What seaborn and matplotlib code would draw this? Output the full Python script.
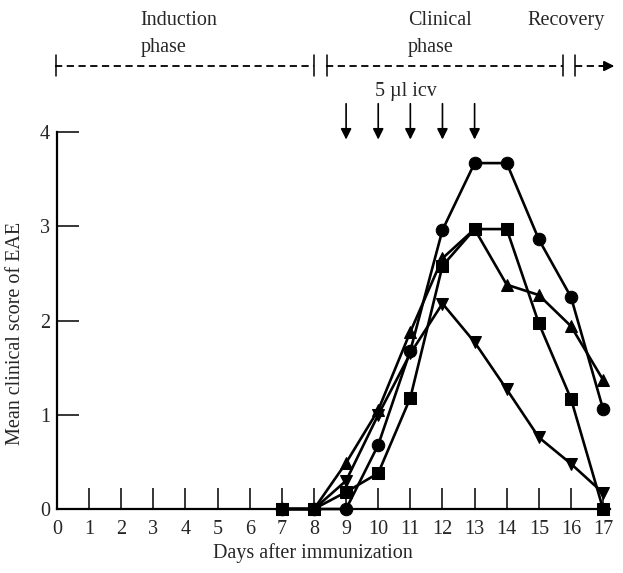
import matplotlib
matplotlib.use("Agg")
import matplotlib.pyplot as plt
import seaborn as sns
import pandas as pd
import numpy as np

days = [7, 8, 9, 10, 11, 12, 13, 14, 15, 16, 17]
circle = [0, 0, 0, 0.68, 1.68, 2.96, 3.67, 3.67, 2.86, 2.25, 1.06]
square = [0, 0, 0.18, 0.38, 1.18, 2.58, 2.97, 2.97, 1.97, 1.17, 0]
tri_up = [0, 0, 0.49, 1.05, 1.88, 2.66, 2.97, 2.38, 2.27, 1.94, 1.37]
tri_down = [0, 0, 0.30, 1.00, 1.65, 2.18, 1.77, 1.27, 0.76, 0.48, 0.17]
series_names = ["circle", "square", "tri_up", "tri_down"]
series_vals = [circle, square, tri_up, tri_down]
marker_map = {"circle": "o", "square": "s", "tri_up": "^", "tri_down": "v"}

xticks = list(range(0, 18))
yticks = [0, 1, 2, 3, 4]
injection_days = [9, 10, 11, 12, 13]

rows = []
for name, vals in zip(series_names, series_vals):
    for d, v in zip(days, vals):
        rows.append({"day": d, "score": v, "group": name})
df = pd.DataFrame(rows)

sns.set_theme(style="white")
plt.rcParams["font.family"] = ["Liberation Serif", "DejaVu Serif"]
FS = 14.5

fig = plt.figure(figsize=(6.23, 5.73), dpi=100)
ax = fig.add_axes([57/623, 64/573, 552.5/623, 377/573])

order = ["tri_up", "tri_down", "circle", "square"]
sns.lineplot(data=df, x="day", y="score", hue="group", style="group",
             hue_order=order, style_order=order,
             palette=["black"] * 4, markers=marker_map, dashes=False,
             markersize=9, linewidth=1.9, markeredgecolor="black",
             legend=False, ax=ax, clip_on=False, zorder=3)

ax.set_xlim(0, 17.2)
ax.set_ylim(0, 4)
ax.set_xticks(xticks)
ax.set_yticks(yticks)
ax.tick_params(axis="x", direction="in", length=15, width=1.1, color="black",
               labelsize=FS, pad=8, bottom=True)
ax.tick_params(axis="y", direction="in", length=16, width=1.1, color="black",
               labelsize=FS, pad=5, left=True)
for s in ["top", "right"]:
    ax.spines[s].set_visible(False)
for s in ["left", "bottom"]:
    ax.spines[s].set_color("black")
    ax.spines[s].set_linewidth(1.6)
ax.set_xlabel("Days after immunization", fontsize=FS)
ax.set_ylabel("Mean clinical score of EAE", fontsize=FS)
ax.xaxis.set_label_coords(0.463, -0.09)
ax.yaxis.set_label_coords(-0.058, 0.467)

# Phase timeline above the axes (data x, data y beyond the top)
yl = 4.70
dash = dict(color="black", lw=1.3, linestyle=(0, (4, 2.5)), clip_on=False)
ax.plot([-0.05, 8.0], [yl, yl], **dash)
ax.plot([8.38, 15.75], [yl, yl], **dash)
ax.plot([16.12, 17.0], [yl, yl], **dash)
ax.annotate("", xy=(17.35, yl), xytext=(16.9, yl),
            arrowprops=dict(arrowstyle="-|>", color="black", lw=1.3,
                            mutation_scale=15, shrinkA=0, shrinkB=0),
            annotation_clip=False)
for bx in [-0.03, 8.0, 8.4, 15.75, 16.12]:
    ax.plot([bx, bx], [4.59, 4.82], color="black", lw=1.1, clip_on=False)

ax.text(2.6, 5.18, "Induction", fontsize=FS, ha="left", va="center")
ax.text(2.6, 4.90, "phase", fontsize=FS, ha="left", va="center")
ax.text(10.93, 5.18, "Clinical", fontsize=FS, ha="left", va="center")
ax.text(10.93, 4.90, "phase", fontsize=FS, ha="left", va="center")
ax.text(14.64, 5.18, "Recovery", fontsize=FS, ha="left", va="center")
ax.text(10.85, 4.43, "5 \u00b5l icv", fontsize=FS, ha="center", va="center")

for d in injection_days:
    ax.annotate("", xy=(d, 3.92), xytext=(d, 4.30),
                arrowprops=dict(arrowstyle="-|>", color="black", lw=1.2,
                                mutation_scale=16, shrinkA=0, shrinkB=0),
                annotation_clip=False)

fig.savefig("out.png", dpi=100, facecolor="white")
